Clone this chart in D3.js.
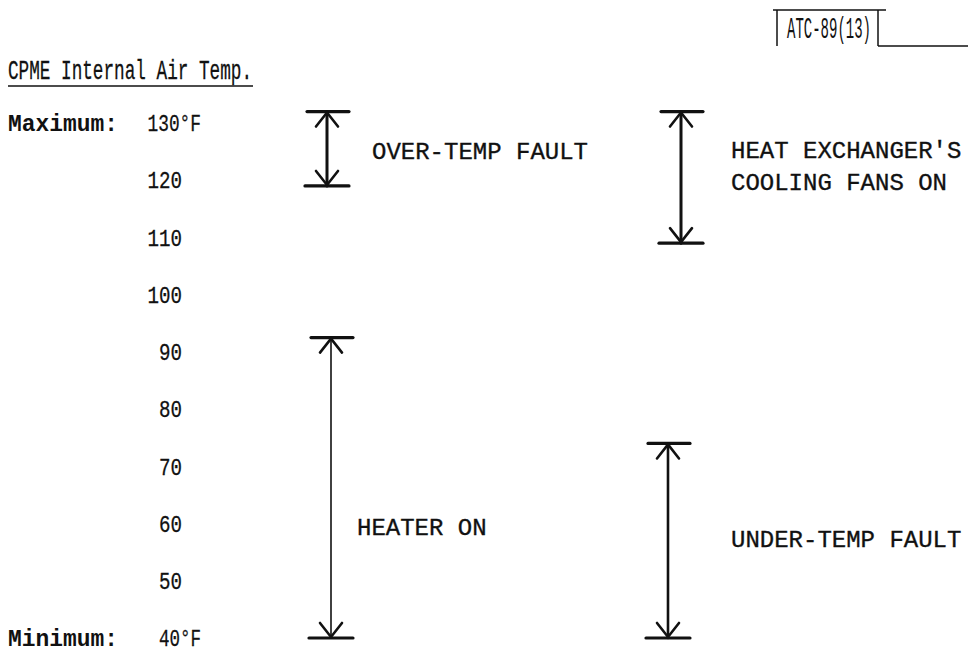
<!DOCTYPE html>
<html>
<head>
<meta charset="utf-8">
<script src="https://cdn.jsdelivr.net/npm/d3@7"></script>
<style>
  html, body { margin: 0; padding: 0; background: #fff; }
  svg { display: block; }
  text { font-family: "Liberation Mono", "Courier New", monospace; fill: #111; }
</style>
</head>
<body>
<svg id="chart" width="970" height="653"></svg>
<script>
// ---- data ----
const title = "CPME Internal Air Temp.";
const docId = "ATC-89(13)";
const tickValues = [130, 120, 110, 100, 90, 80, 70, 60, 50, 40];
const tickPrefix = { 130: "Maximum:", 40: "Minimum:" };
const unit = "°F";
const rangeNames = ["OVER-TEMP FAULT", "HEAT EXCHANGER'S|COOLING FANS ON", "HEATER ON", "UNDER-TEMP FAULT"];
const rangeLow  = [119, 109, 40, 40];
const rangeHigh = [132, 132, 92.5, 74];
const labelTemp = [125.3, 122.6, 59.5, 57.5];

// ---- layout ----
const svg = d3.select("#chart");
const y = d3.scaleLinear().domain([40, 130]).range([638, 123]);
const shaftX = [327, 681, 331, 668];
const labelX = [372, 731, 357, 731];
const ink = "#111";
const numW = 11.5;

// Title
svg.append("text").attr("x", 8).attr("y", 79)
  .attr("font-size", 28).attr("textLength", 244).attr("lengthAdjust", "spacingAndGlyphs")
  .attr("stroke", ink).attr("stroke-width", 0.3)
  .text(title);
svg.append("line").attr("x1", 8).attr("x2", 253).attr("y1", 86).attr("y2", 86)
  .attr("stroke", ink).attr("stroke-width", 1.5);

// ATC box
const box = svg.append("g").attr("stroke", ink).attr("stroke-width", 1.5).attr("fill", "none");
box.append("line").attr("x1", 773).attr("x2", 886).attr("y1", 10).attr("y2", 10);
box.append("line").attr("x1", 777).attr("x2", 777).attr("y1", 10).attr("y2", 46);
box.append("line").attr("x1", 878).attr("x2", 878).attr("y1", 10).attr("y2", 46);
box.append("line").attr("x1", 878).attr("x2", 968).attr("y1", 46).attr("y2", 46);
svg.append("text").attr("x", 787).attr("y", 38)
  .attr("font-family", "Liberation Sans, Arial, sans-serif")
  .attr("font-size", 30).attr("textLength", 84).attr("lengthAdjust", "spacingAndGlyphs")
  .text(docId);

// Axis (tick labels only)
const axis = d3.axisLeft(y).tickValues(tickValues).tickSize(0).tickPadding(0)
  .tickFormat(d => tickPrefix[d] ? String(d) + unit : String(d));
const ag = svg.append("g").attr("transform", "translate(182,0)").call(axis);
ag.select(".domain").remove();
ag.selectAll(".tick text")
  .attr("font-family", "Liberation Mono, Courier New, monospace")
  .attr("font-size", 24).attr("fill", ink).attr("dy", "0.32em")
  .attr("stroke", ink).attr("stroke-width", 0.3)
  .attr("text-anchor", "start")
  .attr("x", d => -String(d).length * numW)
  .attr("textLength", d => tickPrefix[d] ? String(d).length * numW + 19 : String(d).length * numW)
  .attr("lengthAdjust", "spacingAndGlyphs");
ag.selectAll(".tick").each(function(d) {
  if (tickPrefix[d]) {
    d3.select(this).append("text").attr("x", -174).attr("dy", "0.32em").attr("text-anchor", "start")
      .attr("font-family", "Liberation Mono, Courier New, monospace")
      .attr("font-size", 23).attr("font-weight", "bold").attr("fill", ink)
      .attr("textLength", 110).attr("lengthAdjust", "spacingAndGlyphs")
      .text(tickPrefix[d]);
  }
});

// Range arrows
const capHalf = 20, headW = 11, headH = 15;
const widths = [3, 3, 1.6, 2.6];
rangeNames.forEach((name, i) => {
  const x = shaftX[i];
  const yt = y(rangeHigh[i]), yb = y(rangeLow[i]);
  const g = svg.append("g").attr("stroke", ink).attr("fill", "none").attr("stroke-linecap", "round");
  g.append("line").attr("x1", x).attr("x2", x).attr("y1", yt).attr("y2", yb).attr("stroke-width", widths[i]);
  g.append("line").attr("x1", x - capHalf).attr("x2", x + capHalf + 2).attr("y1", yt).attr("y2", yt).attr("stroke-width", 3.2);
  g.append("line").attr("x1", x - capHalf - 2).attr("x2", x + capHalf + 2).attr("y1", yb).attr("y2", yb).attr("stroke-width", 3.2);
  g.append("path").attr("d", `M${x - headW},${yt + headH}L${x},${yt + 1}L${x + headW},${yt + headH}`).attr("stroke-width", 2.6);
  g.append("path").attr("d", `M${x - headW},${yb - headH}L${x},${yb - 1}L${x + headW},${yb - headH}`).attr("stroke-width", 2.6);

  const lines = name.split("|");
  const ly = y(labelTemp[i]);
  lines.forEach((ln, k) => {
    svg.append("text").attr("x", labelX[i])
      .attr("y", ly + (k - (lines.length - 1) / 2) * 32)
      .attr("dy", "0.36em").attr("font-size", 24.5)
      .attr("stroke", ink).attr("stroke-width", 0.35)
      .attr("textLength", ln.length * 14.4).attr("lengthAdjust", "spacingAndGlyphs")
      .text(ln);
  });
});
</script>
</body>
</html>
